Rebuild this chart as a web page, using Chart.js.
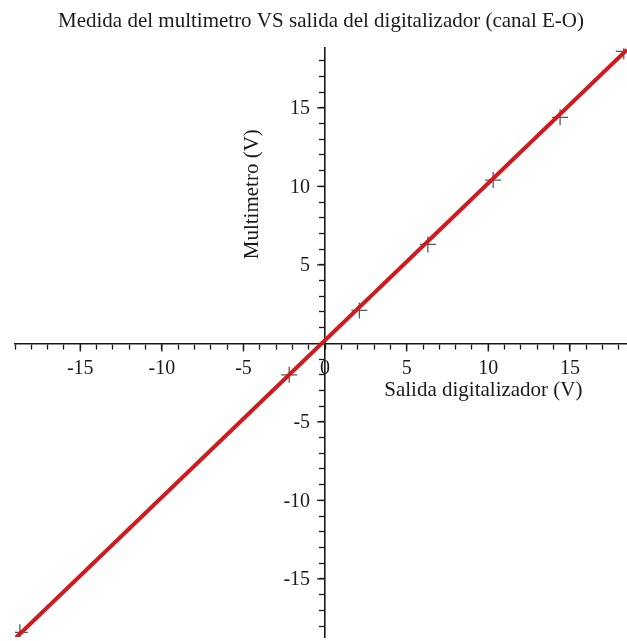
<!DOCTYPE html>
<html>
<head>
<meta charset="utf-8">
<script src="https://cdn.jsdelivr.net/npm/chart.js@4"></script>
<style>
  html, body { margin: 0; padding: 0; background: #fff; }
  #wrap { width: 627px; height: 641px; }
</style>
</head>
<body>
<div id="wrap"><canvas id="calChart"></canvas></div>
<script>
// measured points: digitizer output vs multimeter reading
const salidaDig = [-18.7, -2.2, 2.1, 6.3, 10.3, 14.4, 18.3];
const multimetro = [-18.4, -2.0, 2.1, 6.3, 10.4, 14.4, 18.6];

// fitted line, taken at the ends of the plotted range
const ajusteX = [-19, 18.5];
const ajusteY = [-18.8, 18.7];

const xMajor = [-15, -10, -5, 0, 5, 10, 15];
const yMajor = [-15, -10, -5, 5, 10, 15];

const serif = '"Liberation Serif", "DejaVu Serif", serif';
const ink = '#1a1a1a';

// longer marks on the labelled ticks, y labels and the two axis titles
const axisExtras = {
    id: 'axisExtras',
    afterDraw(chart) {
        const { ctx, scales: { x, y } } = chart;
        const x0 = x.getPixelForValue(0);
        const y0 = y.getPixelForValue(0);
        ctx.save();
        ctx.strokeStyle = ink;
        ctx.lineWidth = 1.3;
        ctx.beginPath();
        xMajor.forEach(v => {
            if (v === 0) return;
            const px = x.getPixelForValue(v);
            ctx.moveTo(px, y0);
            ctx.lineTo(px, y0 + 8);
        });
        yMajor.forEach(v => {
            const py = y.getPixelForValue(v);
            ctx.moveTo(x0, py);
            ctx.lineTo(x0 - 8, py);
        });
        ctx.stroke();

        ctx.fillStyle = ink;
        ctx.font = '20px ' + serif;
        ctx.textAlign = 'right';
        ctx.textBaseline = 'middle';
        yMajor.forEach(v => {
            ctx.fillText(String(v), x0 - 15, y.getPixelForValue(v) + 1);
        });

        ctx.font = '21px ' + serif;
        ctx.textAlign = 'center';
        ctx.fillText('Salida digitalizador (V)', x.getPixelForValue(9.7), y0 + 47);
        ctx.translate(x0 - 73, y.getPixelForValue(9.5));
        ctx.rotate(-Math.PI / 2);
        ctx.fillText('Multimetro (V)', 0, 0);
        ctx.restore();
    }
};

new Chart(document.getElementById('calChart'), {
    type: 'scatter',
    data: {
        datasets: [{
            label: 'Ajuste',
            type: 'line',
            data: ajusteX.map((v, i) => ({ x: v, y: ajusteY[i] })),
            borderColor: '#d01a1e',
            borderWidth: 4,
            pointRadius: 0,
            fill: false,
            order: 0
        }, {
            label: 'Medidas',
            data: salidaDig.map((v, i) => ({ x: v, y: multimetro[i] })),
            pointStyle: 'cross',
            pointRadius: 8,
            pointHoverRadius: 8,
            borderColor: '#4d5a66',
            backgroundColor: '#4d5a66',
            pointBorderWidth: 1.3,
            order: 1
        }]
    },
    options: {
        responsive: true,
        maintainAspectRatio: false,
        animation: false,
        layout: { autoPadding: false, padding: { left: 15, right: 0, top: 0, bottom: 4 } },
        plugins: {
            legend: { display: false },
            tooltip: { enabled: false },
            title: {
                display: true,
                text: 'Medida del multimetro VS salida del digitalizador (canal E-O)',
                color: ink,
                font: { family: serif, size: 21, weight: 'normal' },
                padding: { top: 9, bottom: 14 }
            }
        },
        scales: {
            x: {
                type: 'linear',
                position: { y: 0 },
                min: -19,
                max: 18.5,
                border: { color: ink, width: 1.6 },
                grid: { drawOnChartArea: false, drawTicks: true, tickLength: 5, tickColor: ink, tickWidth: 1.3 },
                ticks: {
                    stepSize: 1,
                    includeBounds: false,
                    autoSkip: false,
                    maxRotation: 0,
                    padding: 8,
                    color: ink,
                    font: { family: serif, size: 20 },
                    callback: v => xMajor.includes(v) ? String(v) : ''
                }
            },
            y: {
                type: 'linear',
                position: { x: 0 },
                min: -18.7,
                max: 18.8,
                border: { color: ink, width: 1.6 },
                grid: { drawOnChartArea: false, drawTicks: true, tickLength: 5, tickColor: ink, tickWidth: 1.3 },
                ticks: {
                    stepSize: 1,
                    includeBounds: false,
                    autoSkip: false,
                    display: false
                }
            }
        }
    },
    plugins: [axisExtras]
});
</script>
</body>
</html>
